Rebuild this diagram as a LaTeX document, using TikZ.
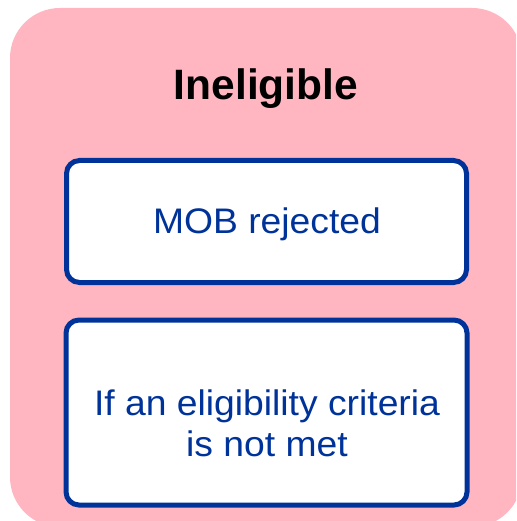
\documentclass[tikz,border=0pt]{standalone}
\usepackage{fontspec}
\setmainfont{Liberation Sans}
\newfontfamily\widefont[FakeStretch=1.05]{Liberation Sans}
\definecolor{pinkbg}{HTML}{FFB6C1}
\definecolor{navy}{HTML}{003399}
\begin{document}
\begin{tikzpicture}[x=1pt,y=-1pt,
  panel/.style={draw=navy,line width=5pt,fill=white,rounded corners=13pt},
  lbl/.style={text=navy,anchor=base,inner sep=0pt,font=\widefont\fontsize{35.5}{41}\selectfont,align=center}]
\useasboundingbox (0,0) rectangle (516,521);
\begin{scope}
\clip (0,0) rectangle (516,521);
\fill[pinkbg,rounded corners=50pt] (10,8) rectangle (522,527);
\end{scope}
\node[anchor=base,inner sep=0pt,font=\fontsize{42.5}{50}\selectfont\bfseries] (title) at (266,100) {Ineligible};
\draw[panel] (66.5,160.5) rectangle (466.5,282.5);
\node[lbl] (mob) at (267,233) {MOB rejected};
\draw[panel] (66,320) rectangle (467,505);
\node[lbl] (crit1) at (267,415) {If an eligibility criteria};
\node[lbl] (crit2) at (267,456) {is not met};
\end{tikzpicture}
\end{document}
